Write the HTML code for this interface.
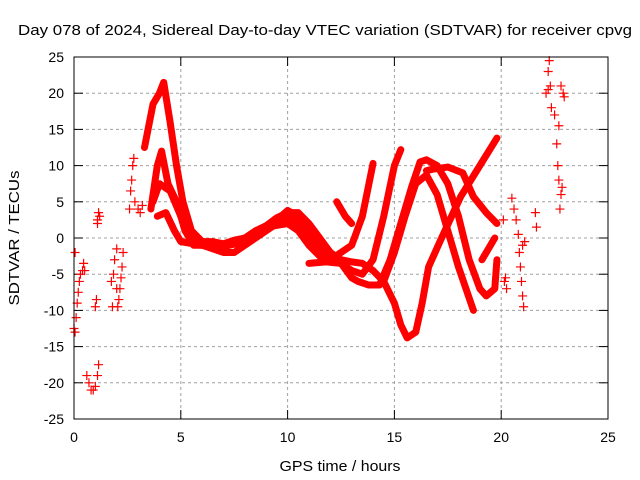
<!DOCTYPE html>
<html><head><meta charset="utf-8"><style>
body{margin:0;background:#fff;}
svg{display:block;font-family:"Liberation Sans",sans-serif;}
</style></head><body>
<svg id="chart" width="640" height="480">
<rect width="640" height="480" fill="#fff"/>
<text x="18" y="35" font-size="15" textLength="614" lengthAdjust="spacingAndGlyphs" fill="#000">Day 078 of 2024, Sidereal Day-to-day VTEC variation (SDTVAR) for receiver cpvg</text>
<text x="340" y="471" font-size="15" textLength="121" lengthAdjust="spacingAndGlyphs" text-anchor="middle">GPS time / hours</text>
<text transform="translate(19,238) rotate(-90)" font-size="15" textLength="135" lengthAdjust="spacingAndGlyphs" text-anchor="middle">SDTVAR / TECUs</text>
<g id="grid"></g><g id="ticks"></g><g id="tracks"></g><g id="pts"></g>
<rect x="74" y="57" width="534" height="362" fill="none" stroke="#000" stroke-width="1"/>
</svg>
<script>
const xTicks=[0,5,10,15,20,25];
const yTicks=[-25,-20,-15,-10,-5,0,5,10,15,20,25];
const trackM1=[[3.3,12.5],[3.7,18.5],[4,20],[4.2,21.5],[4.5,16],[4.8,10],[5.1,5],[5.5,1],[6,-0.5],[6.5,-0.5],[7,-0.8],[7.5,-0.3],[8,0],[8.5,1],[9,1.7],[9.5,2.8],[10,3.5],[10.5,3.5],[11,2],[11.5,0],[12,-2],[12.5,-3],[13,-3.3],[13.5,-3.5],[14,-4.5],[14.5,-6],[15,-9],[15.3,-12],[15.6,-13.8],[16,-13],[16.3,-9],[16.6,-4],[17.1,-0.7],[18.1,5.7],[19,10],[19.8,13.8]];
const trackM2=[[3.6,4],[3.9,10],[4.1,12],[4.4,7.5],[4.8,5],[5.2,1],[5.6,-1],[6,-1],[7,-2],[7.5,-2],[8,-1],[9,1],[10,3],[10.5,2],[11,0],[11.5,-1.5],[12,-3],[12.5,-2],[13,-1],[13.5,3],[14,10.3]];
const trackM3=[[3.7,5],[4,7.5],[4.5,6.5],[5,3],[5.5,0],[6,-0.5],[7,-1],[8,0],[9,1.5],[10,2],[10.5,1],[11,-1],[11.5,-2.5],[12,-3],[12.5,-3.5],[13,-4.5],[13.5,-5],[14,-3],[14.5,3],[15,10],[15.3,12.2]];
const trackM4=[[3.9,3],[4.3,3.5],[4.7,1],[5,-0.5],[6,-1],[7,-1.2],[8,-0.5],[9,1.2],[10,3.8],[10.5,3],[11,1.5],[11.5,-0.5],[12,-2],[12.5,-3.5],[13,-5.5],[13.3,-6],[13.8,-6.5],[14.3,-6.5],[14.8,-3],[15.3,2],[15.8,7],[16.2,10.5],[16.5,10.8],[17,10],[17.5,7.5],[18,3],[18.5,-3],[19,-7],[19.3,-8],[19.7,-7],[19.8,-3]];
const trackM5=[[14.5,-6],[15,-2],[15.5,3],[16,7.5],[16.5,8.7],[17,6],[17.5,1],[18,-4],[18.7,-10]];
const trackM6=[[16.5,9.3],[16.8,9.5],[17.5,9.8],[18.2,9],[18.7,5.7],[19.3,3.5],[19.8,2]];
const trackS1=[[11,-3.5],[11.8,-3.3],[12.5,-3.5]];
const trackS2=[[12.3,5],[12.7,3],[13,2]];
const trackS3=[[19.1,-3],[19.4,-1.5],[19.7,0]];
const scatterPts=[[0,-12.5],[0.05,-13],[0.1,-11],[0.15,-9],[0.2,-7.5],[0.25,-6],[0.3,-5],[0.4,-4.5],[0.45,-3.5],[0.5,-4.5],[0.05,-2],[0.6,-19],[0.7,-20],[0.8,-21],[0.9,-21],[1.0,-20.5],[1.1,-19],[1.15,-17.5],[1.0,-9.5],[1.05,-8.5],[1.1,2.5],[1.15,3.5],[1.2,3],[1.1,2],[1.75,-6],[1.8,-9.5],[1.85,-5],[1.9,-3],[2.0,-1.5],[2.0,-7],[2.05,-9.5],[2.1,-8.5],[2.2,-5.5],[2.25,-4],[2.3,-2],[2.15,-7],[2.6,4],[2.65,6.5],[2.7,8],[2.75,10],[2.8,11],[2.85,5],[3.0,4],[3.1,3.5],[3.2,4.5],[20.1,2.5],[20.2,-5.5],[20.25,-7],[20.15,-6],[20.5,5.5],[20.6,4],[20.7,2.5],[20.8,0.5],[20.85,-2],[20.9,-4],[20.95,-6],[21.0,-8],[21.05,-9.5],[21.0,-1],[21.1,-0.5],[21.6,3.5],[21.65,1.5],[22.1,20],[22.2,23],[22.25,24.5],[22.3,21],[22.35,18],[22.5,17],[22.6,13],[22.65,10],[22.7,8],[22.75,4],[22.8,6],[22.85,7],[22.9,20],[22.8,21],[22.95,19.5],[22.7,15.5],[22.2,20.5]];

const NS='http://www.w3.org/2000/svg';
const X=h=>74+h*(534/25);
const Y=v=>238-v*(362/50);
function mk(tag,attrs,parent){const e=document.createElementNS(NS,tag);for(const k in attrs)e.setAttribute(k,attrs[k]);parent.appendChild(e);return e;}
const grid=document.getElementById('grid'),ticks=document.getElementById('ticks');
xTicks.forEach(t=>{
  if(t>0&&t<25){const l=mk('line',{x1:X(t),x2:X(t),y1:57,y2:419,stroke:'#a0a0a0','stroke-dasharray':'3,3'},grid);
  
  }
  mk('line',{x1:X(t),x2:X(t),y1:419,y2:410,stroke:'#000'},ticks);
  mk('line',{x1:X(t),x2:X(t),y1:57,y2:66,stroke:'#000'},ticks);
  const tx=mk('text',{x:X(t),y:442,'font-size':14,'text-anchor':'middle'},ticks);tx.textContent=t;
  
  
});
yTicks.forEach(t=>{
  if(t>-25&&t<25){const l=mk('line',{x1:74,x2:608,y1:Y(t),y2:Y(t),stroke:'#a0a0a0','stroke-dasharray':'3,3'},grid);
  
  }
  mk('line',{x1:74,x2:83,y1:Y(t),y2:Y(t),stroke:'#000'},ticks);
  mk('line',{x1:608,x2:599,y1:Y(t),y2:Y(t),stroke:'#000'},ticks);
  const tx=mk('text',{x:64,y:Y(t)+5,'font-size':14,'text-anchor':'end'},ticks);tx.textContent=t;
  
  
});
const tg=document.getElementById('tracks');
[trackM1,trackM2,trackM3,trackM4,trackM5,trackM6,trackS1,trackS2,trackS3].forEach((tr,i)=>{
  const p=mk('polyline',{points:tr.map(d=>X(d[0])+','+Y(d[1])).join(' '),fill:'none',stroke:'#ff0000','stroke-width':7,'stroke-linejoin':'round','stroke-linecap':'round'},tg);
  
  
});
const pg=document.getElementById('pts');
scatterPts.forEach(d=>{
  const x=X(d[0]),y=Y(d[1]);
  const p=mk('path',{d:`M${x-4.5},${y}H${x+4.5}M${x},${y-4.5}V${y+4.5}`,stroke:'#ff0000','stroke-width':1.2},pg);
  
  
});
</script>
</body></html>
